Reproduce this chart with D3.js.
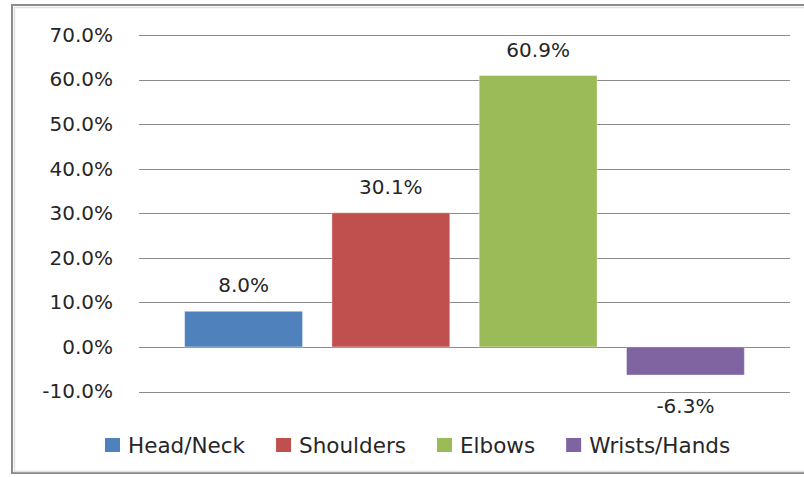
<!DOCTYPE html>
<html>
<head>
<meta charset="utf-8">
<script src="https://cdn.jsdelivr.net/npm/d3@7"></script>
<style>
  body { margin: 0; background: #fff; }
  text { font-family: "DejaVu Sans", Verdana, sans-serif; fill: #262626; }
</style>
</head>
<body>
<div id="chart"></div>
<script>
// chart values (percent)
var categories = ["Head/Neck", "Shoulders", "Elbows", "Wrists/Hands"];
var values = [8.0, 30.1, 60.9, -6.3];
var colors = ["#4F81BD", "#C0504D", "#9BBB59", "#8064A2"];
var yTicks = [-10, 0, 10, 20, 30, 40, 50, 60, 70];

var width = 804, height = 477;

var svg = d3.select("#chart").append("svg")
    .attr("width", width)
    .attr("height", height);

// frame like the excel chart area
svg.append("rect")
    .attr("x", 12).attr("y", 5)
    .attr("width", 810).attr("height", 468)
    .attr("fill", "#fff")
    .attr("stroke", "#8c8c8c")
    .attr("stroke-width", 2);
svg.append("rect")    // soft inner shadow
    .attr("x", 14.5).attr("y", 7.5)
    .attr("width", 810).attr("height", 464)
    .attr("fill", "none")
    .attr("stroke", "#e2e2e2")
    .attr("stroke-width", 1.5);

var plotLeft = 139, plotRight = 790;

var y = d3.scaleLinear()
    .domain([-10, 70])
    .range([391.5, 35]);

var x = d3.scaleBand()
    .domain(categories)
    .range([plotLeft, plotRight])
    .paddingInner(0.2)
    .paddingOuter(0.31);

// gridlines
svg.append("g")
    .selectAll("line")
    .data(yTicks)
    .enter().append("line")
    .attr("x1", plotLeft)
    .attr("x2", plotRight)
    .attr("y1", function(d) { return Math.round(y(d)) + 0.5; })
    .attr("y2", function(d) { return Math.round(y(d)) + 0.5; })
    .attr("stroke", "#8a8a8a")
    .attr("stroke-width", 1);

// y axis labels
var yAxis = svg.append("g")
    .attr("transform", "translate(" + plotLeft + ",0)")
    .call(d3.axisLeft(y)
        .tickValues(yTicks)
        .tickSize(0)
        .tickPadding(26)
        .tickFormat(function(d) { return d.toFixed(1) + "%"; }));
yAxis.select(".domain").remove();
yAxis.selectAll("text")
    .style("font-family", "'DejaVu Sans', Verdana, sans-serif")
    .style("font-size", "20px")
    .attr("fill", "#262626");

// bars
svg.append("g")
    .selectAll("rect")
    .data(values)
    .enter().append("rect")
    .attr("x", function(d, i) { return x(categories[i]); })
    .attr("width", x.bandwidth())
    .attr("y", function(d) { return y(Math.max(0, d)); })
    .attr("height", function(d) { return Math.abs(y(d) - y(0)); })
    .attr("fill", function(d, i) { return colors[i]; })
    .attr("stroke", "rgba(255,255,255,0.35)")
    .attr("stroke-width", 1);

// value labels
svg.append("g")
    .selectAll("text")
    .data(values)
    .enter().append("text")
    .attr("x", function(d, i) { return x(categories[i]) + x.bandwidth() / 2; })
    .attr("y", function(d) { return d >= 0 ? y(d) - 19 : y(d) + 38; })
    .attr("text-anchor", "middle")
    .style("font-size", "20px")
    .text(function(d) { return d.toFixed(1) + "%"; });

// legend
var legend = svg.append("g");
var lx = 105;
categories.forEach(function(c, i) {
    legend.append("rect")
        .attr("x", lx).attr("y", 438)
        .attr("width", 15).attr("height", 14)
        .attr("fill", colors[i]);
    var t = legend.append("text")
        .attr("x", lx + 23)
        .attr("y", 453)
        .style("font-size", "21.5px")
        .text(c);
    lx += 23 + t.node().getComputedTextLength() + 31;
});
</script>
</body>
</html>
